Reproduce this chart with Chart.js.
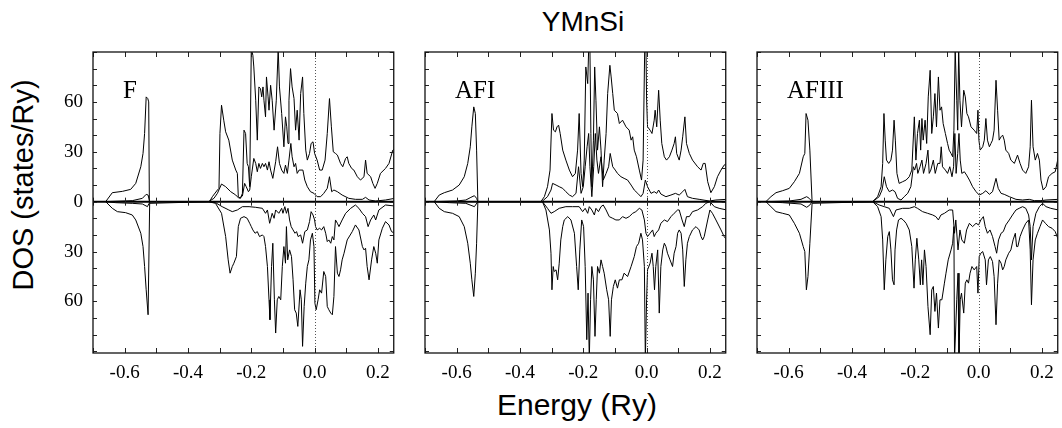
<!DOCTYPE html>
<html>
<head>
<meta charset="utf-8">
<script src="https://cdn.jsdelivr.net/npm/chart.js@4.4.1/dist/chart.umd.min.js"></script>
<style>
  html, body { margin: 0; padding: 0; background: #fff; }
  body { width: 1062px; height: 428px; position: relative; overflow: hidden; font-family: "Liberation Sans", Arial, sans-serif; color: #000; }
  canvas { position: absolute; top: 0; }
  .txt { position: absolute; white-space: nowrap; line-height: 1; }
  #title { left: 483px; width: 200px; top: 8px; font-size: 28px; text-align: center; }
  #xlabel { left: 427px; width: 300px; top: 390px; font-size: 30px; text-align: center; }
  #ylabel { left: 23px; top: 185px; font-size: 29px; transform: translate(-50%, -50%) rotate(-90deg); }
</style>
</head>
<body>
<div class="txt" id="title">YMnSi</div>
<div class="txt" id="xlabel">Energy (Ry)</div>
<div class="txt" id="ylabel">DOS (states/Ry)</div>
<canvas id="c0" width="366" height="400"></canvas>
<canvas id="c1" width="366" height="400"></canvas>
<canvas id="c2" width="366" height="400"></canvas>
<script>
// tick values
const xTickLabels = [-0.6, -0.4, -0.2, 0.0, 0.2];
const xMinorTicks = [-0.7, -0.6, -0.5, -0.4, -0.3, -0.2, -0.1, 0.0, 0.1, 0.2];
const yTickLabels = [-60, -30, 0, 30, 60];
const yMinorTicks = [-90, -80, -70, -60, -50, -40, -30, -20, -10, 0, 10, 20, 30, 40, 50, 60, 70, 80, 90];
const panelNames = ['F', 'AFI', 'AFIII'];

// [energy (Ry), DOS (states/Ry)] ; spin down plotted negative
const fUpTot = [[-0.66,0],[-0.639,5.4],[-0.607,6.2],[-0.581,7.4],[-0.565,11],[-0.549,21],[-0.542,29],[-0.537,41],[-0.532,63],[-0.527,62],[-0.524,60],[-0.522,0],[-0.332,0],[-0.323,3],[-0.307,7],[-0.302,8],[-0.299,41],[-0.294,58],[-0.287,49],[-0.281,42],[-0.271,37],[-0.26,25],[-0.249,19],[-0.244,17],[-0.241,3],[-0.234,2],[-0.228,5],[-0.223,43],[-0.218,41],[-0.213,23],[-0.209,21],[-0.205,9],[-0.2,92],[-0.195,88],[-0.192,81],[-0.186,61],[-0.181,37],[-0.176,69],[-0.171,68],[-0.167,63],[-0.163,69],[-0.16,61],[-0.155,51],[-0.152,75],[-0.147,63],[-0.144,55],[-0.139,70],[-0.134,61],[-0.128,43],[-0.121,61],[-0.115,92],[-0.111,69],[-0.104,53],[-0.097,33],[-0.092,51],[-0.088,45],[-0.084,35],[-0.081,61],[-0.076,80],[-0.071,69],[-0.065,62],[-0.06,43],[-0.055,55],[-0.049,37],[-0.044,65],[-0.038,75],[-0.034,53],[-0.028,31],[-0.023,25],[-0.016,29],[-0.011,35],[-0.005,36],[0,29],[0.008,25],[0.016,19],[0.024,19],[0.033,25],[0.04,41],[0.047,62],[0.053,45],[0.059,30],[0.066,29],[0.072,28],[0.082,23],[0.089,21],[0.098,26],[0.103,27],[0.108,23],[0.117,20],[0.124,19],[0.135,15],[0.145,13],[0.156,15],[0.161,25],[0.166,17],[0.177,15],[0.184,11],[0.191,8],[0.198,11],[0.208,17],[0.224,20],[0.235,23],[0.247,31],[0.253,32]];
const fUpPart = [[-0.66,0],[-0.576,0.6],[-0.544,2],[-0.532,4.4],[-0.526,4],[-0.521,0],[-0.335,0],[-0.318,2],[-0.307,5],[-0.294,10.6],[-0.281,9],[-0.265,6],[-0.249,4],[-0.239,2],[-0.228,3.4],[-0.221,11],[-0.216,9],[-0.209,6],[-0.205,7],[-0.2,15],[-0.192,26],[-0.186,23],[-0.181,18],[-0.176,23],[-0.171,20],[-0.165,23],[-0.16,21],[-0.155,23],[-0.149,19],[-0.144,24],[-0.139,19],[-0.132,14],[-0.123,24],[-0.117,33],[-0.111,23],[-0.104,19],[-0.097,17],[-0.092,22],[-0.086,17],[-0.081,25],[-0.075,35],[-0.071,27],[-0.065,21],[-0.06,23],[-0.055,17],[-0.049,19],[-0.043,19],[-0.037,19],[-0.031,13],[-0.023,9],[-0.013,6],[-0.002,5],[0.008,3],[0.019,3],[0.029,5],[0.04,8],[0.047,15],[0.054,6],[0.061,7],[0.072,6],[0.087,4],[0.108,2],[0.129,1.4],[0.151,1.4],[0.161,2.6],[0.172,1],[0.193,0.4],[0.224,1],[0.253,2]];
const fDnTot = [[-0.66,0],[-0.639,-4],[-0.623,-6],[-0.597,-6.6],[-0.576,-8],[-0.565,-11],[-0.549,-19],[-0.542,-27],[-0.537,-39],[-0.532,-53],[-0.526,-68],[-0.521,-1],[-0.335,0],[-0.313,-1],[-0.294,-7],[-0.281,-21],[-0.273,-35],[-0.267,-43],[-0.26,-39],[-0.255,-37],[-0.247,-33],[-0.241,-15],[-0.234,-10],[-0.223,-9],[-0.213,-10],[-0.205,-13],[-0.2,-15],[-0.195,-17],[-0.188,-19],[-0.181,-18],[-0.174,-21],[-0.165,-20],[-0.16,-21],[-0.155,-27],[-0.149,-39],[-0.144,-59],[-0.141,-71],[-0.136,-39],[-0.132,-25],[-0.127,-59],[-0.123,-79],[-0.118,-59],[-0.113,-57],[-0.107,-59],[-0.102,-39],[-0.097,-27],[-0.092,-37],[-0.089,-15],[-0.085,-35],[-0.079,-29],[-0.073,-33],[-0.068,-47],[-0.063,-65],[-0.058,-67],[-0.053,-75],[-0.046,-53],[-0.042,-59],[-0.038,-87],[-0.033,-63],[-0.028,-49],[-0.023,-39],[-0.018,-35],[-0.013,-23],[-0.007,-19],[-0.002,-27],[0.001,-61],[0.005,-65],[0.011,-59],[0.016,-53],[0.022,-55],[0.029,-42],[0.035,-45],[0.04,-63],[0.045,-65],[0.051,-67],[0.056,-68],[0.061,-57],[0.066,-27],[0.072,-43],[0.077,-45],[0.082,-41],[0.087,-35],[0.093,-31],[0.103,-23],[0.119,-18],[0.129,-14],[0.14,-17],[0.151,-27],[0.156,-29],[0.161,-28],[0.166,-39],[0.172,-47],[0.18,-35],[0.187,-27],[0.193,-31],[0.198,-37],[0.203,-23],[0.214,-16],[0.224,-12],[0.235,-14],[0.243,-18],[0.253,-19]];
const fDnPart = [[-0.66,0],[-0.628,-0.6],[-0.576,-1],[-0.544,-1.4],[-0.528,-3],[-0.523,-1],[-0.521,0],[-0.335,0],[-0.313,-0.6],[-0.292,-3],[-0.271,-5],[-0.26,-6],[-0.244,-5],[-0.228,-3],[-0.207,-3],[-0.186,-3.4],[-0.165,-4],[-0.155,-7],[-0.149,-5],[-0.142,-13],[-0.134,-7],[-0.128,-10],[-0.123,-5],[-0.113,-7],[-0.104,-4],[-0.1,-7],[-0.094,-3],[-0.089,-7],[-0.084,-4],[-0.079,-11],[-0.074,-15],[-0.068,-17],[-0.062,-19],[-0.057,-18],[-0.052,-21],[-0.044,-20],[-0.038,-25],[-0.031,-18],[-0.023,-17],[-0.016,-12],[-0.011,-6],[-0.005,-8],[0,-11],[0.003,-15],[0.008,-17],[0.016,-16],[0.022,-17],[0.029,-15],[0.035,-19],[0.04,-24],[0.045,-23],[0.051,-25],[0.056,-21],[0.061,-23],[0.066,-11],[0.072,-13],[0.077,-15],[0.087,-11],[0.098,-7],[0.114,-4],[0.129,-2],[0.14,-4],[0.151,-7],[0.161,-9],[0.169,-15],[0.177,-11],[0.187,-8],[0.193,-11],[0.203,-5],[0.224,-2],[0.253,-2.6]];

const afiUpTot = [[-0.671,0],[-0.655,4],[-0.639,5.4],[-0.613,7],[-0.592,10],[-0.576,15],[-0.565,23],[-0.557,33],[-0.552,45],[-0.546,57],[-0.541,53],[-0.537,31],[-0.533,0],[-0.334,0],[-0.323,3],[-0.313,9],[-0.305,19],[-0.299,53],[-0.294,43],[-0.288,42],[-0.283,45],[-0.278,46],[-0.273,41],[-0.265,31],[-0.255,25],[-0.244,19],[-0.234,15],[-0.225,17],[-0.218,31],[-0.213,53],[-0.207,17],[-0.202,9],[-0.197,25],[-0.192,81],[-0.186,71],[-0.183,92],[-0.179,92],[-0.176,41],[-0.173,9],[-0.168,37],[-0.164,81],[-0.16,61],[-0.155,31],[-0.149,45],[-0.144,31],[-0.139,9],[-0.134,25],[-0.128,41],[-0.123,65],[-0.116,82],[-0.112,75],[-0.107,65],[-0.102,55],[-0.092,53],[-0.086,47],[-0.076,49],[-0.065,45],[-0.055,43],[-0.049,37],[-0.044,39],[-0.039,31],[-0.032,27],[-0.023,19],[-0.016,13],[-0.011,25],[-0.006,92],[-0.002,92],[0,61],[0.003,45],[0.011,43],[0.017,41],[0.024,49],[0.027,55],[0.032,45],[0.038,67],[0.043,49],[0.048,35],[0.056,27],[0.063,25],[0.072,27],[0.08,31],[0.087,35],[0.091,39],[0.095,29],[0.103,25],[0.109,31],[0.114,39],[0.121,51],[0.126,35],[0.135,29],[0.145,25],[0.161,21],[0.172,19],[0.179,23],[0.185,23],[0.193,12],[0.203,5.4],[0.214,9],[0.224,15],[0.235,19],[0.245,22],[0.253,23]];
const afiUpPart = [[-0.671,0],[-0.602,0.4],[-0.571,1],[-0.555,2.6],[-0.544,3.6],[-0.537,2],[-0.533,0],[-0.331,0],[-0.313,3],[-0.302,7],[-0.297,11],[-0.286,10],[-0.276,9],[-0.265,8],[-0.255,6],[-0.244,4],[-0.234,3],[-0.223,5],[-0.215,21],[-0.207,5],[-0.2,9],[-0.194,21],[-0.188,33],[-0.183,41],[-0.179,21],[-0.173,3],[-0.167,21],[-0.162,41],[-0.157,25],[-0.152,17],[-0.144,27],[-0.137,13],[-0.128,17],[-0.12,21],[-0.115,29],[-0.107,21],[-0.099,19],[-0.092,17],[-0.081,15],[-0.071,14],[-0.06,13],[-0.049,10],[-0.039,7],[-0.028,5],[-0.018,3],[-0.011,5],[-0.004,13],[0.003,9],[0.014,5],[0.024,6],[0.032,5],[0.038,7],[0.045,4.6],[0.061,3],[0.077,4],[0.091,5],[0.103,4],[0.114,6],[0.121,7.4],[0.129,3],[0.145,2],[0.166,1.4],[0.198,0.4],[0.219,1],[0.253,1.4]];
const afiDnTot = [[-0.671,0],[-0.655,-4],[-0.639,-6],[-0.613,-7],[-0.592,-9],[-0.576,-15],[-0.565,-25],[-0.557,-37],[-0.552,-47],[-0.546,-57],[-0.541,-43],[-0.537,-25],[-0.533,0],[-0.329,0],[-0.318,-5],[-0.307,-17],[-0.302,-31],[-0.299,-53],[-0.295,-39],[-0.292,-42],[-0.286,-41],[-0.281,-47],[-0.276,-37],[-0.271,-23],[-0.265,-15],[-0.26,-11],[-0.249,-9],[-0.239,-11],[-0.228,-19],[-0.221,-39],[-0.216,-53],[-0.211,-29],[-0.205,-11],[-0.199,-15],[-0.194,-39],[-0.189,-83],[-0.185,-55],[-0.181,-95],[-0.177,-59],[-0.173,-39],[-0.168,-47],[-0.163,-81],[-0.159,-59],[-0.155,-39],[-0.149,-43],[-0.144,-35],[-0.139,-39],[-0.134,-43],[-0.126,-53],[-0.12,-59],[-0.115,-81],[-0.111,-59],[-0.105,-51],[-0.099,-47],[-0.092,-52],[-0.086,-47],[-0.078,-47],[-0.071,-43],[-0.06,-45],[-0.049,-39],[-0.039,-33],[-0.032,-27],[-0.025,-25],[-0.018,-19],[-0.013,-23],[-0.007,-39],[-0.004,-95],[0,-59],[0.003,-41],[0.011,-37],[0.017,-31],[0.021,-39],[0.025,-53],[0.029,-39],[0.035,-29],[0.04,-67],[0.045,-39],[0.051,-29],[0.056,-25],[0.061,-27],[0.066,-31],[0.074,-35],[0.082,-39],[0.087,-31],[0.093,-27],[0.098,-19],[0.103,-17],[0.109,-19],[0.114,-29],[0.119,-51],[0.124,-35],[0.129,-25],[0.135,-21],[0.145,-17],[0.156,-15],[0.166,-17],[0.172,-21],[0.177,-23],[0.182,-21],[0.193,-11],[0.2,-5],[0.208,-7],[0.219,-11],[0.235,-17],[0.245,-21],[0.253,-23]];
const afiDnPart = [[-0.671,0],[-0.623,-0.6],[-0.571,-1],[-0.544,-3],[-0.533,0],[-0.329,0],[-0.313,-4],[-0.302,-7],[-0.292,-6],[-0.276,-4],[-0.255,-3],[-0.234,-3],[-0.213,-3],[-0.202,-6],[-0.194,-4],[-0.186,-7],[-0.181,-3],[-0.173,-5],[-0.165,-8],[-0.16,-4],[-0.152,-6],[-0.144,-3],[-0.137,-2],[-0.128,-5],[-0.118,-9],[-0.107,-10],[-0.097,-11],[-0.086,-11],[-0.076,-9],[-0.065,-10],[-0.055,-9],[-0.044,-7],[-0.034,-6],[-0.023,-4],[-0.015,-5],[-0.007,-11],[-0.002,-19],[0.003,-21],[0.011,-19],[0.019,-17],[0.024,-21],[0.029,-19],[0.038,-17],[0.045,-13],[0.056,-11],[0.066,-12],[0.077,-9],[0.087,-7],[0.098,-5],[0.103,-5],[0.112,-11],[0.119,-15],[0.126,-9],[0.135,-9],[0.145,-6],[0.161,-5],[0.177,-3],[0.187,-1],[0.2,0],[0.214,-3],[0.229,-4],[0.253,-5]];

const afiiiUpTot = [[-0.672,0],[-0.656,3],[-0.64,5.4],[-0.619,6.6],[-0.598,8],[-0.582,12],[-0.566,17],[-0.554,27],[-0.549,29],[-0.545,53],[-0.539,49],[-0.533,31],[-0.526,0],[-0.335,0],[-0.319,3],[-0.308,9],[-0.303,23],[-0.299,53],[-0.295,37],[-0.291,25],[-0.284,23],[-0.277,25],[-0.272,31],[-0.267,49],[-0.263,37],[-0.258,17],[-0.251,11],[-0.24,12],[-0.229,13],[-0.219,15],[-0.211,19],[-0.203,51],[-0.198,25],[-0.193,41],[-0.187,49],[-0.183,31],[-0.179,50],[-0.175,37],[-0.169,49],[-0.164,35],[-0.159,63],[-0.153,79],[-0.148,41],[-0.143,51],[-0.138,65],[-0.133,45],[-0.127,75],[-0.122,55],[-0.117,57],[-0.112,47],[-0.105,41],[-0.098,35],[-0.093,31],[-0.087,29],[-0.082,27],[-0.078,43],[-0.074,92],[-0.069,61],[-0.066,43],[-0.063,92],[-0.059,61],[-0.054,45],[-0.047,67],[-0.042,63],[-0.037,53],[-0.032,51],[-0.024,45],[-0.014,43],[-0.006,41],[-0.002,55],[0.001,37],[0.005,31],[0.013,33],[0.018,37],[0.023,50],[0.028,37],[0.034,33],[0.039,35],[0.044,37],[0.049,43],[0.055,73],[0.06,55],[0.065,37],[0.071,39],[0.076,40],[0.081,37],[0.086,31],[0.095,29],[0.102,25],[0.113,23],[0.123,28],[0.131,23],[0.139,19],[0.149,17],[0.158,21],[0.163,33],[0.167,61],[0.172,33],[0.179,25],[0.186,29],[0.192,25],[0.197,13],[0.204,7],[0.213,9],[0.221,15],[0.232,17],[0.242,18],[0.252,27]];
const afiiiUpPart = [[-0.672,0],[-0.598,0.4],[-0.561,1.4],[-0.543,3],[-0.535,2],[-0.526,0],[-0.335,0],[-0.314,3],[-0.305,7],[-0.298,15],[-0.291,9],[-0.282,6],[-0.272,7],[-0.264,6],[-0.256,2],[-0.245,1],[-0.235,3],[-0.224,5],[-0.214,9],[-0.206,21],[-0.202,19],[-0.196,23],[-0.192,17],[-0.185,21],[-0.179,25],[-0.174,17],[-0.166,23],[-0.16,31],[-0.156,17],[-0.151,19],[-0.143,25],[-0.137,17],[-0.129,23],[-0.122,23],[-0.118,33],[-0.114,21],[-0.105,19],[-0.098,17],[-0.091,21],[-0.084,15],[-0.079,21],[-0.075,41],[-0.071,17],[-0.066,29],[-0.062,41],[-0.058,25],[-0.053,17],[-0.045,18],[-0.038,16],[-0.029,13],[-0.019,9],[-0.008,6],[0.002,4],[0.013,5],[0.023,6.6],[0.034,4.4],[0.044,6],[0.055,14],[0.062,8],[0.071,5],[0.081,4.4],[0.097,3],[0.118,1.4],[0.139,1],[0.16,1.4],[0.176,0.6],[0.197,0.6],[0.213,1],[0.252,1.4]];
const afiiiDnTot = [[-0.672,0],[-0.656,-3],[-0.64,-6],[-0.619,-7],[-0.598,-8],[-0.582,-13],[-0.566,-19],[-0.554,-27],[-0.549,-30],[-0.544,-53],[-0.539,-45],[-0.533,-25],[-0.526,-1],[-0.335,0],[-0.319,-3],[-0.308,-9],[-0.303,-23],[-0.298,-53],[-0.293,-35],[-0.287,-21],[-0.282,-18],[-0.277,-29],[-0.272,-47],[-0.267,-50],[-0.264,-29],[-0.259,-17],[-0.253,-11],[-0.245,-10],[-0.238,-11],[-0.229,-13],[-0.219,-17],[-0.211,-27],[-0.204,-52],[-0.2,-35],[-0.195,-22],[-0.189,-35],[-0.184,-50],[-0.18,-35],[-0.176,-50],[-0.171,-29],[-0.166,-39],[-0.16,-63],[-0.153,-80],[-0.148,-53],[-0.143,-51],[-0.138,-66],[-0.133,-55],[-0.127,-76],[-0.122,-59],[-0.116,-59],[-0.108,-49],[-0.103,-43],[-0.096,-35],[-0.087,-29],[-0.082,-25],[-0.078,-15],[-0.076,-95],[-0.069,-59],[-0.065,-43],[-0.062,-95],[-0.058,-59],[-0.054,-55],[-0.047,-67],[-0.042,-49],[-0.037,-47],[-0.032,-49],[-0.027,-43],[-0.021,-39],[-0.014,-41],[-0.006,-39],[-0.002,-55],[0.002,-33],[0.007,-31],[0.013,-30],[0.021,-35],[0.025,-50],[0.031,-35],[0.037,-33],[0.044,-36],[0.049,-45],[0.055,-74],[0.06,-49],[0.065,-35],[0.071,-37],[0.076,-41],[0.081,-39],[0.086,-35],[0.095,-31],[0.102,-29],[0.109,-23],[0.116,-19],[0.12,-27],[0.124,-27],[0.131,-21],[0.139,-17],[0.149,-13],[0.158,-11],[0.163,-29],[0.167,-62],[0.172,-35],[0.179,-23],[0.186,-19],[0.194,-15],[0.202,-11],[0.211,-13],[0.221,-15],[0.232,-16],[0.242,-18],[0.252,-23]];
const afiiiDnPart = [[-0.672,0],[-0.619,-0.6],[-0.561,-1.4],[-0.543,-3.4],[-0.533,-2],[-0.526,0],[-0.335,0],[-0.314,-2],[-0.298,-3],[-0.282,-4],[-0.269,-9],[-0.261,-5],[-0.24,-4],[-0.219,-4],[-0.203,-3],[-0.193,-4],[-0.177,-6],[-0.161,-7],[-0.145,-8],[-0.135,-9],[-0.127,-11],[-0.119,-8],[-0.108,-7],[-0.093,-5],[-0.082,-5],[-0.076,-19],[-0.072,-11],[-0.065,-29],[-0.059,-17],[-0.053,-23],[-0.045,-25],[-0.038,-17],[-0.029,-13],[-0.019,-15],[-0.008,-13],[0,-14],[0.007,-11],[0.015,-9],[0.021,-15],[0.028,-19],[0.036,-17],[0.044,-21],[0.052,-27],[0.057,-31],[0.063,-23],[0.071,-19],[0.078,-18],[0.086,-14],[0.097,-11],[0.107,-8],[0.118,-5],[0.128,-4],[0.139,-3],[0.149,-4],[0.158,-8],[0.163,-15],[0.167,-35],[0.172,-15],[0.181,-7],[0.192,-3],[0.202,-1],[0.213,-3],[0.228,-4],[0.252,-5]];

const panelSeries = [
    [fUpTot, fUpPart, fDnTot, fDnPart],
    [afiUpTot, afiUpPart, afiDnTot, afiDnPart],
    [afiiiUpTot, afiiiUpPart, afiiiDnTot, afiiiDnPart]
];

// layout
const panelLeft = [93, 425, 757];
const axisW = 60;
const plotTop = 52;
const plotBottom = 353;
const canvasH = 400;

// draws frame, inward ticks, zero line, Fermi level and panel name
const framePlugin = {
    id: 'frame',
    afterDatasetsDraw(chart, args, opts) {
        const ctx = chart.ctx;
        const a = chart.chartArea;
        const x = chart.scales.x;
        const y = chart.scales.y;
        ctx.save();

        // Fermi level, dotted
        const x0 = Math.round(x.getPixelForValue(0)) + 0.5;
        ctx.strokeStyle = '#555';
        ctx.lineWidth = 1;
        ctx.setLineDash([1, 2]);
        ctx.beginPath();
        ctx.moveTo(x0, a.top);
        ctx.lineTo(x0, a.bottom);
        ctx.stroke();
        ctx.setLineDash([]);

        // zero line
        const y0 = y.getPixelForValue(0);
        ctx.strokeStyle = '#000';
        ctx.lineWidth = 2;
        ctx.beginPath();
        ctx.moveTo(a.left, y0);
        ctx.lineTo(a.right, y0);
        ctx.stroke();

        // ticks
        ctx.lineWidth = 1;
        ctx.strokeStyle = '#222';
        ctx.beginPath();
        xMinorTicks.forEach(v => {
            const px = Math.round(x.getPixelForValue(v)) + 0.5;
            ctx.moveTo(px, a.top); ctx.lineTo(px, a.top + 5);
            ctx.moveTo(px, a.bottom); ctx.lineTo(px, a.bottom - 5);
            ctx.moveTo(px, y0 - 4); ctx.lineTo(px, y0 + 4);
        });
        yMinorTicks.forEach(v => {
            const py = Math.round(y.getPixelForValue(v)) + 0.5;
            ctx.moveTo(a.left, py); ctx.lineTo(a.left + 4, py);
            ctx.moveTo(a.right, py); ctx.lineTo(a.right - 4, py);
        });
        ctx.stroke();

        // frame
        ctx.lineWidth = 1.3;
        ctx.strokeStyle = '#111';
        ctx.strokeRect(a.left, a.top, a.right - a.left, a.bottom - a.top);

        // panel name
        ctx.fillStyle = '#000';
        ctx.font = '25px "Liberation Serif", "Times New Roman", serif';
        ctx.textAlign = 'left';
        ctx.textBaseline = 'alphabetic';
        ctx.fillText(opts.label, a.left + 30, a.top + 46);
        ctx.restore();
    }
};

function makePanel(i) {
    const canvas = document.getElementById('c' + i);
    canvas.style.left = (panelLeft[i] - axisW) + 'px';
    const tickFont = { family: '"Liberation Serif", "Times New Roman", serif', size: 19 };

    const datasets = panelSeries[i].map(s => ({
        data: s.map(p => ({ x: p[0], y: p[1] })),
        borderColor: '#000',
        borderWidth: 1,
        pointRadius: 0,
        tension: 0,
        fill: false
    }));

    return new Chart(canvas.getContext('2d'), {
        type: 'line',
        data: { datasets: datasets },
        options: {
            responsive: false,
            animation: false,
            layout: { padding: { top: plotTop, right: 4, bottom: 0, left: 0 } },
            plugins: {
                legend: { display: false },
                tooltip: { enabled: false },
                frame: { label: panelNames[i] }
            },
            scales: {
                x: {
                    type: 'linear',
                    min: -0.7,
                    max: 0.25,
                    grid: { display: false, drawTicks: false },
                    border: { display: false },
                    afterBuildTicks: s => { s.ticks = xTickLabels.map(v => ({ value: v })); },
                    afterFit: s => { s.height = canvasH - plotBottom; },
                    ticks: {
                        color: '#000',
                        font: tickFont,
                        padding: 9,
                        maxRotation: 0,
                        autoSkip: false,
                        callback: v => v.toFixed(1)
                    }
                },
                y: {
                    min: -91,
                    max: 90,
                    grid: { display: false, drawTicks: false },
                    border: { display: false },
                    afterBuildTicks: s => { s.ticks = yTickLabels.map(v => ({ value: v })); },
                    afterFit: s => { s.width = axisW; },
                    ticks: {
                        display: i === 0,
                        color: '#000',
                        font: tickFont,
                        padding: 10,
                        autoSkip: false,
                        callback: v => Math.abs(v)
                    }
                }
            }
        },
        plugins: [framePlugin]
    });
}

[0, 1, 2].forEach(makePanel);
</script>
</body>
</html>
